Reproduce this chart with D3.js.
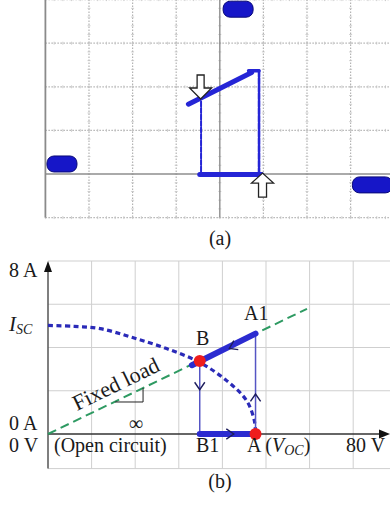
<!DOCTYPE html>
<html>
<head>
<meta charset="utf-8">
<script src="https://cdn.jsdelivr.net/npm/d3@7"></script>
<style>
  html, body { margin: 0; padding: 0; background: #fff; }
  svg { display: block; }
  text { font-family: "Liberation Serif", "Times New Roman", serif; fill: #1a1a1a; }
</style>
</head>
<body>
<svg id="fig" width="390" height="511"></svg>
<script>
// ---------- Panel (a): oscilloscope XY trace (units: divisions) ----------
const scopeXDivs = [-4, -3, -2, -1, 0, 1, 2, 3, 4];
const scopeYDivs = [-1, 0, 1, 2, 3, 4];
const traceSlope  = [[-0.72, 1.60], [0.73, 2.33]];
const traceCap    = [[0.66, 2.37], [0.90, 2.37]];
const traceRight  = [[0.90, 2.37], [0.90, 0.00]];
const traceLeft   = [[-0.43, 1.66], [-0.43, 0.00]];
const traceBottom = [[-0.46, -0.01], [0.96, -0.01]];
const arrowDownTip = [-0.44, 1.72];
const arrowUpTip   = [0.98, 0.02];
const channelMarks = [[0.42, 3.78], [-3.62, 0.23], [3.5, -0.25]];
const channelMarkWidths = [30, 30, 40];

// ---------- Panel (b): I-V characteristic ----------
const voltGrid = [0, 10, 20, 30, 40, 50, 60, 70];
const ampGrid = [0, 2, 4, 6, 8];
const ivCurveV = [0, 6, 12, 19.4, 27.2, 34.7, 40.9, 45.5, 47.3, 47.6];
const ivCurveI = [5.02, 4.98, 4.87, 4.46, 3.95, 3.32, 2.48, 1.56, 0.64, 0.06];
const loadLineV = [0, 59.4];
const loadLineI = [0, 5.79];
const pointB  = [34.8, 3.38];
const pointB1 = [34.8, 0];
const pointA  = [47.6, 0];
const pointA1 = [47.6, 4.64];
const thickBA1 = [[33.0, 3.18], [47.6, 4.64]];
const thickB1A = [[34.8, 0], [47.6, 0]];
// chevrons: [V, I, screen heading in degrees (0 = right, 90 = down)]
const chevrons = [[41.6, 3.96, 154], [34.8, 2.05, 90], [47.6, 1.85, -90], [42.6, 0, 0]];
const leaderV = [21.8, 15.4];
const leaderI = 1.48;

const svg = d3.select("#fig");

// ===== Panel (a) =====
const sx = d3.scaleLinear().domain([-4, 4]).range([45.4, 394.2]);
const sy = d3.scaleLinear().domain([-1, 4]).range([217.6, -0.4]);
const ga = svg.append("g");

// dotted grid
ga.selectAll("line.vg").data(scopeXDivs.filter(d => d !== 0 && d !== -4)).join("line")
  .attr("x1", d => sx(d)).attr("x2", d => sx(d)).attr("y1", sy(4)).attr("y2", sy(-1))
  .attr("stroke", "#b4b4b4").attr("stroke-width", 1.2).attr("stroke-dasharray", "1.5,1.5");
ga.selectAll("line.hg").data(scopeYDivs.filter(d => d !== 0)).join("line")
  .attr("x1", sx(-4)).attr("x2", sx(4)).attr("y1", d => sy(d)).attr("y2", d => sy(d))
  .attr("stroke", "#b4b4b4").attr("stroke-width", 1.2).attr("stroke-dasharray", "1.5,1.5");
// minor ticks on grid lines
const minor = d3.range(-4, 4.01, 0.2);
scopeYDivs.filter(d => d !== 0).forEach(yd => {
  ga.append("g").selectAll("line").data(minor).join("line")
    .attr("x1", d => sx(d)).attr("x2", d => sx(d))
    .attr("y1", sy(yd) - 1.5).attr("y2", sy(yd) + 1.5)
    .attr("stroke", "#c4c4c4").attr("stroke-width", 0.8);
});
const minorY = d3.range(-1, 4.01, 0.2);
scopeXDivs.filter(d => d !== -4).forEach(xd => {
  ga.append("g").selectAll("line").data(minorY).join("line")
    .attr("x1", sx(xd) - 1.5).attr("x2", sx(xd) + 1.5)
    .attr("y1", d => sy(d)).attr("y2", d => sy(d))
    .attr("stroke", "#c4c4c4").attr("stroke-width", 0.8);
});
// solid centre lines and left frame
ga.append("line").attr("x1", sx(0)).attr("x2", sx(0)).attr("y1", sy(4)).attr("y2", sy(-1))
  .attr("stroke", "#8e8e8e").attr("stroke-width", 1.4);
ga.append("line").attr("x1", sx(-4)).attr("x2", sx(4)).attr("y1", sy(0)).attr("y2", sy(0))
  .attr("stroke", "#8e8e8e").attr("stroke-width", 1.4);
ga.append("line").attr("x1", sx(-4)).attr("x2", sx(-4)).attr("y1", sy(4)).attr("y2", sy(-1))
  .attr("stroke", "#8a8a8a").attr("stroke-width", 1.8);

// channel markers
ga.selectAll("rect.mk").data(channelMarks).join("rect")
  .attr("x", (d, i) => sx(d[0]) - channelMarkWidths[i] / 2)
  .attr("y", d => sy(d[1]) - 8)
  .attr("width", (d, i) => channelMarkWidths[i]).attr("height", 16)
  .attr("rx", 7).attr("ry", 7)
  .attr("fill", "#1616c8").attr("stroke", "#0a0a78").attr("stroke-width", 1);

// trace
const traceColor = "#2525d6";
const lineA = d3.line().x(d => sx(d[0])).y(d => sy(d[1]));
const drawTrace = (pts, w, dash) => ga.append("path").attr("d", lineA(pts))
  .attr("fill", "none").attr("stroke", traceColor).attr("stroke-width", w)
  .attr("stroke-linecap", "round").attr("stroke-dasharray", dash || null);
drawTrace(traceLeft, 2, "5,1.5");
drawTrace(traceRight, 2.6, "6,1.5");
drawTrace(traceBottom, 5);
drawTrace(traceSlope, 5);
drawTrace(traceCap, 3.5);

// block arrows
const downArrow = (tx, ty) => `M${tx},${ty} L${tx - 11},${ty - 11} L${tx - 3.5},${ty - 11} L${tx - 3.5},${ty - 24} L${tx + 3.5},${ty - 24} L${tx + 3.5},${ty - 11} L${tx + 11},${ty - 11} Z`;
const upArrow = (tx, ty) => `M${tx},${ty} L${tx - 11},${ty + 10} L${tx - 4},${ty + 10} L${tx - 4},${ty + 24} L${tx + 4},${ty + 24} L${tx + 4},${ty + 10} L${tx + 11},${ty + 10} Z`;
ga.append("path").attr("d", downArrow(sx(arrowDownTip[0]), sy(arrowDownTip[1])))
  .attr("fill", "#fff").attr("stroke", "#222").attr("stroke-width", 1.3).attr("stroke-linejoin", "miter");
ga.append("path").attr("d", upArrow(sx(arrowUpTip[0]), sy(arrowUpTip[1])))
  .attr("fill", "#fff").attr("stroke", "#222").attr("stroke-width", 1.3).attr("stroke-linejoin", "miter");

svg.append("text").attr("x", 220).attr("y", 245).attr("text-anchor", "middle")
  .attr("font-size", 20).text("(a)");

// ===== Panel (b) =====
const x = d3.scaleLinear().domain([0, 80]).range([48, 396.8]);
const y = d3.scaleLinear().domain([0, 8]).range([434, 261]);
const gb = svg.append("g");
const yBottom = y(-1.6);

gb.selectAll("line.vg").data(voltGrid.filter(d => d > 0)).join("line")
  .attr("x1", d => x(d)).attr("x2", d => x(d)).attr("y1", y(8)).attr("y2", yBottom)
  .attr("stroke", "#cfcfcf").attr("stroke-width", 1);
gb.selectAll("line.hg").data(ampGrid.filter(d => d > 0)).join("line")
  .attr("x1", x(0)).attr("x2", 390).attr("y1", d => y(d)).attr("y2", d => y(d))
  .attr("stroke", "#cfcfcf").attr("stroke-width", 1);
gb.append("line").attr("x1", x(0)).attr("x2", 390).attr("y1", yBottom).attr("y2", yBottom)
  .attr("stroke", "#cfcfcf").attr("stroke-width", 1);

// axes with arrowheads
gb.append("line").attr("x1", x(0)).attr("x2", x(0)).attr("y1", y(7.75)).attr("y2", yBottom)
  .attr("stroke", "#555").attr("stroke-width", 1.5);
gb.append("path").attr("d", `M${x(0)},${y(8)} L${x(0) - 4},${y(8) + 11} L${x(0) + 4},${y(8) + 11} Z`).attr("fill", "#111");
gb.append("line").attr("x1", x(0)).attr("x2", 381).attr("y1", y(0)).attr("y2", y(0))
  .attr("stroke", "#333").attr("stroke-width", 1.4);
gb.append("path").attr("d", `M390,${y(0)} L379,${y(0) - 4.5} L379,${y(0) + 4.5} Z`).attr("fill", "#111");

// fixed-load line
gb.append("path")
  .attr("d", d3.line().x(d => x(d[0])).y(d => y(d[1]))(loadLineV.map((v, i) => [v, loadLineI[i]])))
  .attr("fill", "none").attr("stroke", "#2e9a62").attr("stroke-width", 2)
  .attr("stroke-dasharray", "9,5");

// I-V curve
gb.append("path")
  .attr("d", d3.line().curve(d3.curveCatmullRom).x(d => x(d[0])).y(d => y(d[1]))(ivCurveV.map((v, i) => [v, ivCurveI[i]])))
  .attr("fill", "none").attr("stroke", "#2a2ab8").attr("stroke-width", 3.2)
  .attr("stroke-dasharray", "5,3.5");

// thin transitions
const lineB = d3.line().x(d => x(d[0])).y(d => y(d[1]));
gb.append("path").attr("d", lineB([pointB, pointB1]))
  .attr("stroke", "#5555c4").attr("stroke-width", 1.5).attr("fill", "none");
gb.append("path").attr("d", lineB([pointA, pointA1]))
  .attr("stroke", "#5555c4").attr("stroke-width", 1.5).attr("fill", "none");
// thick operating segments
gb.append("path").attr("d", lineB(thickBA1))
  .attr("stroke", "#2b2bd0").attr("stroke-width", 6).attr("stroke-linecap", "round").attr("fill", "none");
gb.append("path").attr("d", lineB(thickB1A))
  .attr("stroke", "#2b2bd0").attr("stroke-width", 6).attr("stroke-linecap", "round").attr("fill", "none");

// chevrons showing direction of travel
chevrons.forEach(c => {
  const cx = x(c[0]), cy = y(c[1]);
  const a = c[2] * Math.PI / 180, L = 9, s = 0.6;
  const p1 = [cx - L * Math.cos(a - s), cy - L * Math.sin(a - s)];
  const p2 = [cx - L * Math.cos(a + s), cy - L * Math.sin(a + s)];
  gb.append("path").attr("d", `M${p1[0]},${p1[1]} L${cx},${cy} L${p2[0]},${p2[1]}`)
    .attr("fill", "none").attr("stroke", "#1c1c5c").attr("stroke-width", 1.4);
});

// operating points
gb.selectAll("circle.op").data([pointB, pointA]).join("circle")
  .attr("cx", d => x(d[0])).attr("cy", d => y(d[1])).attr("r", 6)
  .attr("fill", "#ee1c1c");

// leader for the load label
gb.append("path")
  .attr("d", `M${x(leaderV[0])},${y(leaderV[0] * loadLineI[1] / loadLineV[1])} L${x(leaderV[0])},${y(leaderI)} L${x(leaderV[1])},${y(leaderI)}`)
  .attr("fill", "none").attr("stroke", "#222").attr("stroke-width", 1);

// labels
const fs = 20;
const t = (xx, yy, s, anchor) => svg.append("text").attr("x", xx).attr("y", yy)
  .attr("font-size", fs).attr("text-anchor", anchor || "start").text(s);
t(9, 277, "8 A");
t(9, 430, "0 A");
t(9, 452, "0 V");
t(54, 452, "(Open circuit)");
t(196, 452, "B1");
t(244, 320, "A1");
t(196, 345, "B");
t(346, 452, "80 V");
svg.append("text").attr("x", 136).attr("y", 430).attr("text-anchor", "middle")
  .attr("font-size", 20).text("∞");

const isc = svg.append("text").attr("x", 9).attr("y", 331).attr("font-size", 21);
isc.append("tspan").attr("font-style", "italic").text("I");
isc.append("tspan").attr("font-style", "italic").attr("font-size", 14).attr("dy", 3).text("SC");

const voc = svg.append("text").attr("x", 247).attr("y", 452).attr("font-size", fs);
voc.append("tspan").text("A (");
voc.append("tspan").attr("font-style", "italic").text("V");
voc.append("tspan").attr("font-style", "italic").attr("font-size", 14).attr("dy", 3).text("OC");
voc.append("tspan").attr("dy", -3).text(")");

const ang = -Math.atan2(y(0) - y(loadLineI[1]), x(loadLineV[1]) - x(0)) * 180 / Math.PI;
svg.append("text").attr("transform", `translate(77,411) rotate(${ang})`)
  .attr("font-size", 22).text("Fixed load");

svg.append("text").attr("x", 220).attr("y", 488).attr("text-anchor", "middle")
  .attr("font-size", 20).text("(b)");
</script>
</body>
</html>
